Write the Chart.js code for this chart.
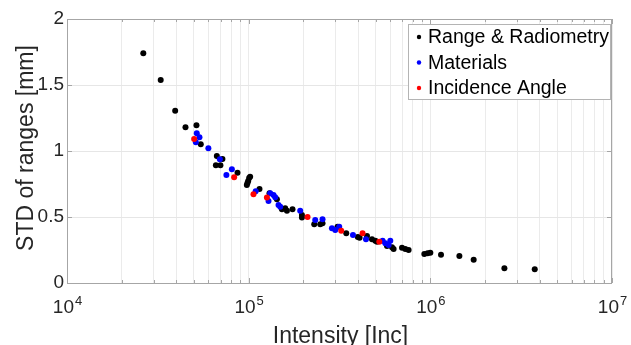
<!DOCTYPE html>
<html>
<head>
<meta charset="utf-8">
<script src="https://cdn.jsdelivr.net/npm/chart.js@4.4.1/dist/chart.umd.min.js"></script>
<style>
  html, body { margin: 0; padding: 0; background: #fff; }
  canvas { display: block; }
</style>
</head>
<body>
<canvas id="chart" width="631" height="345"></canvas>
<script>
// Range & Radiometry (black)
const rangeX = [26300, 32800, 39400, 44900, 51600, 54500, 66800, 71700, 66000, 69900,
  86800, 97700, 99400, 100600, 101900, 98500, 114700, 130200, 143000, 152400,
  158900, 162400, 174300, 196400, 196400, 229600, 247700, 255000, 308500, 344500,
  398700, 407900, 448000, 477300, 497700, 508500, 577300, 615200, 627800, 698400,
  728300, 759300, 926800, 966200, 1000000, 1145000, 1445000, 1732000, 2557000, 3756000];
const rangeY = [1.74, 1.538, 1.305, 1.18, 1.195, 1.051, 0.962, 0.939, 0.892, 0.892,
  0.836, 0.742, 0.773, 0.795, 0.805, 0.758, 0.712, 0.68, 0.634, 0.558,
  0.566, 0.548, 0.558, 0.515, 0.496, 0.445, 0.445, 0.452, 0.427, 0.377,
  0.348, 0.343, 0.356, 0.331, 0.32, 0.313, 0.28, 0.27, 0.258, 0.267,
  0.258, 0.25, 0.22, 0.225, 0.23, 0.214, 0.205, 0.177, 0.111, 0.104];

// Materials (blue)
const matX = [51800, 53600, 51200, 60000, 69400, 80800, 75400, 109300, 131400, 137000,
  140000, 128600, 146000, 149200, 192200, 232500, 255000, 287300, 299600, 315200,
  375100, 442300, 546100, 565100, 589200, 602100];
const matY = [1.134, 1.104, 1.066, 1.02, 0.937, 0.861, 0.818, 0.695, 0.68, 0.667,
  0.649, 0.621, 0.591, 0.578, 0.548, 0.477, 0.483, 0.414, 0.402, 0.427,
  0.364, 0.331, 0.32, 0.301, 0.288, 0.32];

// Incidence Angle (red)
const incX = [50100, 83200, 106300, 126000, 210900, 323300, 423600, 523600];
const incY = [1.091, 0.801, 0.672, 0.648, 0.5, 0.396, 0.377, 0.313];

const seriesNames = ["Range & Radiometry", "Materials", "Incidence Angle"];
const seriesColors = ["#000000", "#0000ff", "#ff0000"];

const xExponents = [4, 5, 6, 7];
const minorSteps = [2, 3, 4, 5, 6, 7, 8, 9];
const yTicks = [0, 0.5, 1, 1.5, 2];

const FONT = "'Liberation Sans', Arial, sans-serif";

function toPoints(xs, ys) {
  return xs.map((v, i) => ({ x: v, y: ys[i] }));
}

// every decade plus its minor steps, for the log grid
function logTicks() {
  const out = [];
  xExponents.forEach((e, i) => {
    out.push({ value: Math.pow(10, e), major: true });
    if (i < xExponents.length - 1) {
      minorSteps.forEach((m) => out.push({ value: m * Math.pow(10, e), major: false }));
    }
  });
  return out;
}

const framePlugin = {
  id: "frame",
  afterDatasetsDraw(chart) {
    const { ctx, chartArea: a, scales } = chart;
    const x = scales.x;
    const y = scales.y;
    ctx.save();

    // axes box
    ctx.strokeStyle = "#a6a6a6";
    ctx.lineWidth = 1;
    ctx.strokeRect(a.left + 0.5, a.top + 0.5, a.right - a.left - 1, a.bottom - a.top);

    // inner tick marks
    ctx.beginPath();
    x.ticks.forEach((t) => {
      const px = Math.round(x.getPixelForValue(t.value)) + 0.5;
      const len = t.major ? 5 : 3;
      ctx.moveTo(px, a.bottom);
      ctx.lineTo(px, a.bottom - len);
      ctx.moveTo(px, a.top);
      ctx.lineTo(px, a.top + len);
    });
    yTicks.forEach((v) => {
      const py = Math.round(y.getPixelForValue(v)) + 0.5;
      ctx.moveTo(a.left, py);
      ctx.lineTo(a.left + 5, py);
      ctx.moveTo(a.right, py);
      ctx.lineTo(a.right - 5, py);
    });
    ctx.stroke();

    // x tick labels as 10 with a raised exponent
    ctx.fillStyle = "#262626";
    ctx.textBaseline = "alphabetic";
    ctx.textAlign = "left";
    xExponents.forEach((e) => {
      const px = x.getPixelForValue(Math.pow(10, e));
      ctx.font = "19px " + FONT;
      const wBase = ctx.measureText("10").width;
      ctx.font = "13px " + FONT;
      const wExp = ctx.measureText(String(e)).width;
      const start = px - (wBase + wExp) / 2;
      ctx.font = "19px " + FONT;
      ctx.fillText("10", start, 313);
      ctx.font = "13px " + FONT;
      ctx.fillText(String(e), start + wBase + 1, 305);
    });

    // axis titles
    ctx.font = "23px " + FONT;
    ctx.textAlign = "center";
    ctx.fillText("Intensity [Inc]", (a.left + a.right) / 2 + 1, 343);
    ctx.save();
    ctx.translate(27, 148);
    ctx.rotate(-Math.PI / 2);
    ctx.textBaseline = "middle";
    ctx.fillText("STD of ranges [mm]", 0, 0);
    ctx.restore();

    // legend box
    ctx.fillStyle = "#ffffff";
    ctx.fillRect(408.5, 24.5, 202, 75);
    ctx.strokeStyle = "#b4b4b4";
    ctx.strokeRect(408.5, 24.5, 202, 75);
    ctx.font = "19.5px " + FONT;
    ctx.textAlign = "left";
    ctx.textBaseline = "middle";
    seriesNames.forEach((name, i) => {
      const cy = 37 + i * 25.5;
      ctx.fillStyle = seriesColors[i];
      ctx.beginPath();
      ctx.arc(419, cy, 2.2, 0, Math.PI * 2);
      ctx.fill();
      ctx.fillStyle = "#000000";
      ctx.fillText(name, 428, cy + 1);
    });

    ctx.restore();
  },
};

const datasets = [
  { data: toPoints(rangeX, rangeY), order: 3 },
  { data: toPoints(matX, matY), order: 2 },
  { data: toPoints(incX, incY), order: 1 },
].map((d, i) => ({
  label: seriesNames[i],
  data: d.data,
  order: d.order,
  backgroundColor: seriesColors[i],
  borderWidth: 0,
  pointRadius: 3,
  pointHoverRadius: 3,
}));

new Chart(document.getElementById("chart"), {
  type: "scatter",
  data: { datasets },
  plugins: [framePlugin],
  options: {
    responsive: false,
    animation: false,
    events: [],
    layout: { padding: { left: 0, top: 19, right: 19, bottom: 0 } },
    plugins: {
      legend: { display: false },
      tooltip: { enabled: false },
    },
    scales: {
      x: {
        type: "logarithmic",
        min: 1e4,
        max: 1e7,
        afterBuildTicks(scale) {
          scale.ticks = logTicks();
        },
        afterFit(scale) {
          scale.height = 62;
        },
        ticks: { display: false },
        grid: { color: "#ebebeb", drawTicks: false },
        border: { display: false },
      },
      y: {
        min: 0,
        max: 2,
        afterBuildTicks(scale) {
          scale.ticks = yTicks.map((v) => ({ value: v }));
        },
        afterFit(scale) {
          scale.width = 67;
        },
        ticks: {
          color: "#262626",
          font: { family: FONT, size: 19 },
          padding: 3,
          callback: (v) => String(v),
        },
        grid: { color: "#e6e6e6", drawTicks: false },
        border: { display: false },
      },
    },
  },
});
</script>
</body>
</html>
